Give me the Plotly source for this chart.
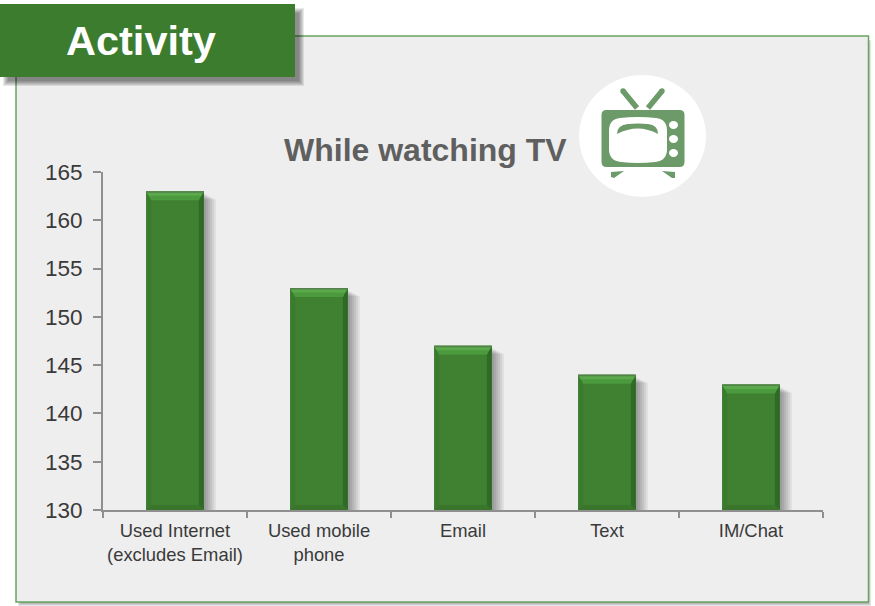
import plotly.graph_objects as go

# Chart data
categories = ["Used Internet<br>(excludes Email)", "Used mobile<br>phone", "Email", "Text", "IM/Chat"]
values = [163, 153, 147, 144, 143]
y_ticks = [130, 135, 140, 145, 150, 155, 160, 165]

# Colours
GREEN = "#3f8031"
HEADER = "#3c7c2e"
LIGHT = "#5aa94b"
LIGHT_LOW = "#4b9a3e"
DARK_EDGE = "#2f6a26"
LEFT_EDGE = "#3a7b2d"
FOOT = "#39762c"
ICON = "#6c9a68"
PANEL = "#eeeeee"
BORDER = "#67a562"
AXIS = "#8f8f8f"

# Plot area in page pixels
L, R, T, B = 103, 823, 172, 510
W, H = 875, 606
BAR_WIDTH = 0.4
X_PER_PX = 5 / (R - L)
Y_PER_PX = (y_ticks[-1] - y_ticks[0]) / (B - T)


def px(x):
    return (x - L) / (R - L)


def py(y):
    return (B - y) / (B - T)


def page_rect(x0, y0, x1, y1, fill, opacity=1, layer="below", line=None, width=0):
    return dict(type="rect", xref="paper", yref="paper", x0=px(x0), x1=px(x1), y0=py(y0), y1=py(y1),
                fillcolor=fill, opacity=opacity, layer=layer,
                line=dict(color=line or fill, width=width))


def page_path(points, fill, close=True, layer="above", line_width=0, line_color=None):
    d = ""
    for i, (x, y) in enumerate(points):
        d += ("M" if i == 0 else "L") + f"{px(x):.5f},{py(y):.5f} "
    if close:
        d += "Z"
    return dict(type="path", xref="paper", yref="paper", path=d, layer=layer,
                fillcolor=fill if close else "rgba(0,0,0,0)",
                line=dict(color=line_color or fill, width=line_width))


def page_curve(d_template, fill, layer="above"):
    # d_template holds (x, y) pairs in page pixels for an SVG path
    d = ""
    for tok in d_template:
        if isinstance(tok, str):
            d += tok + " "
        else:
            d += f"{px(tok[0]):.5f},{py(tok[1]):.5f} "
    return dict(type="path", xref="paper", yref="paper", path=d, layer=layer,
                fillcolor=fill, line=dict(color=fill, width=0))


def page_ellipse(cx, cy, rx, ry, fill, layer="above"):
    return dict(type="circle", xref="paper", yref="paper", x0=px(cx - rx), x1=px(cx + rx),
                y0=py(cy + ry), y1=py(cy - ry), fillcolor=fill, layer=layer,
                line=dict(color=fill, width=0))


def rounded(x0, y0, x1, y1, r):
    return ["M", (x0 + r, y0), "L", (x1 - r, y0), "Q", (x1, y0), (x1, y0 + r),
            "L", (x1, y1 - r), "Q", (x1, y1), (x1 - r, y1),
            "L", (x0 + r, y1), "Q", (x0, y1), (x0, y1 - r),
            "L", (x0, y0 + r), "Q", (x0, y0), (x0 + r, y0), "Z"]


shapes = []

# Panel with a soft drop shadow
for i in range(4):
    shapes.append(page_rect(18 + i, 40 + i, 871 - i, 606 - i, "#000000", 0.10))
shapes.append(page_rect(16, 36, 868.5, 602, PANEL, line=BORDER, width=1.5))

# Soft shadow to the right of each bar, then the bevel on top of the bar
for i, v in enumerate(values):
    left = i - BAR_WIDTH / 2
    right = i + BAR_WIDTH / 2
    for step in range(1, 7):
        shapes.append(dict(type="rect", xref="x", yref="y", layer="below",
                           x0=left + 4 * X_PER_PX, x1=right + (step * 2) * X_PER_PX,
                           y0=y_ticks[0], y1=v - (2 + step) * Y_PER_PX,
                           fillcolor="#000000", opacity=0.065, line=dict(width=0)))

    def bevel(points, fill):
        d = ""
        for k, (dx, dy) in enumerate(points):
            d += ("M" if k == 0 else "L") + f"{dx:.4f},{dy:.4f} "
        return dict(type="path", xref="x", yref="y", layer="above", path=d + "Z",
                    fillcolor=fill, line=dict(width=0))

    inset_x = 5 * X_PER_PX
    top_h = 9 * Y_PER_PX
    foot_h = 5 * Y_PER_PX
    base = y_ticks[0]
    shapes.append(bevel([(left, base), (left + inset_x, base + foot_h),
                         (left + inset_x, v - top_h), (left, v)], LEFT_EDGE))
    shapes.append(bevel([(right, base), (right - inset_x, base + foot_h),
                         (right - inset_x, v - top_h), (right, v)], DARK_EDGE))
    shapes.append(bevel([(left, base), (right, base), (right - inset_x, base + foot_h),
                         (left + inset_x, base + foot_h)], FOOT))
    # Top bevel in two tones, brighter toward the upper edge
    shapes.append(bevel([(left, v), (right, v), (right - inset_x, v - top_h),
                         (left + inset_x, v - top_h)], LIGHT_LOW))
    shapes.append(bevel([(left, v), (right, v), (right - inset_x * 0.5, v - top_h * 0.5),
                         (left + inset_x * 0.5, v - top_h * 0.5)], LIGHT))
    # Thin dark rim along the top edge
    shapes.append(bevel([(left, v), (right, v), (right, v - 1.5 * Y_PER_PX),
                         (left, v - 1.5 * Y_PER_PX)], "#567f4e"))

# Header tab with its shadow
for i in range(6):
    shapes.append(page_rect(3 + i, 8 + i, 304 - i, 86 - i, "#000000", 0.09, layer="above"))
shapes.append(page_rect(0, 4, 295, 77, HEADER, layer="above"))

# Television badge
shapes.append(page_ellipse(642.5, 136, 63.5, 61, "#ffffff"))
shapes.append(page_path([(623, 91), (637, 108)], ICON, close=False, line_width=5.5))
shapes.append(page_path([(662, 91), (648, 108)], ICON, close=False, line_width=5.5))
shapes.append(page_ellipse(623, 91, 2.7, 2.7, ICON))
shapes.append(page_ellipse(662, 91, 2.7, 2.7, ICON))
shapes.append(page_curve(rounded(601.5, 110, 684.5, 167, 5), ICON))
shapes.append(page_curve(["M", (620, 118), "Q", (638, 116), (656, 118), "Q", (667, 119), (667, 131),
                          "L", (667, 149), "Q", (667, 161), (655, 162), "Q", (638, 164), (621, 162),
                          "Q", (609, 161), (609, 149), "L", (609, 131), "Q", (609, 119), (620, 118), "Z"],
                         "#ffffff"))
shapes.append(page_curve(["M", (617, 134), "Q", (617, 125), (628, 124), "Q", (638, 123), (648, 124),
                          "Q", (658, 125), (658, 134), "Q", (638, 123), (617, 134), "Z"], ICON))
for knob_y in (125, 139, 153):
    shapes.append(page_ellipse(673.5, knob_y, 4.5, 4, "#ffffff"))
shapes.append(page_path([(611, 172), (624, 171), (614, 178), (611, 177)], ICON))
shapes.append(page_path([(662, 171), (675, 172), (675, 178), (672, 178)], ICON))

fig = go.Figure(go.Bar(x=categories, y=values, width=BAR_WIDTH, marker=dict(color=GREEN, line=dict(width=0))))

annotations = [
    dict(text="<b>Activity</b>", x=px(141), y=py(40), xref="paper", yref="paper", showarrow=False,
         font=dict(family="Liberation Sans", size=41.5, color="#ffffff"), xanchor="center", yanchor="middle"),
    dict(text="<b>While watching TV</b>", x=px(425), y=py(150), xref="paper", yref="paper", showarrow=False,
         font=dict(family="Liberation Sans", size=32, color="#5f5f5f"), xanchor="center", yanchor="middle"),
]

fig.update_layout(
    width=W, height=H, autosize=False,
    margin=dict(l=L, r=W - R, t=T, b=H - B, pad=0, autoexpand=False),
    paper_bgcolor="#ffffff", plot_bgcolor="rgba(0,0,0,0)",
    showlegend=False, shapes=shapes, annotations=annotations,
    font=dict(family="Liberation Sans"),
    xaxis=dict(type="category", tickson="boundaries", ticks="outside", ticklen=6, tickwidth=2,
               tickcolor=AXIS, showline=True, linecolor=AXIS, linewidth=2, showgrid=False,
               tickfont=dict(size=18.4, color="#3a3a3a"), ticklabelstandoff=3, tickangle=0, automargin=False,
               range=[-0.5, 4.5], fixedrange=True),
    yaxis=dict(range=[y_ticks[0], y_ticks[-1]], tickvals=y_ticks, ticks="outside", ticklen=8, tickwidth=2,
               tickcolor=AXIS, showline=True, linecolor=AXIS, linewidth=2, showgrid=False, zeroline=False,
               tickfont=dict(size=22.5, color="#3a3a3a"), ticklabelstandoff=6, automargin=False, fixedrange=True),
)

fig.write_html("out.html", config=dict(displayModeBar=False))
